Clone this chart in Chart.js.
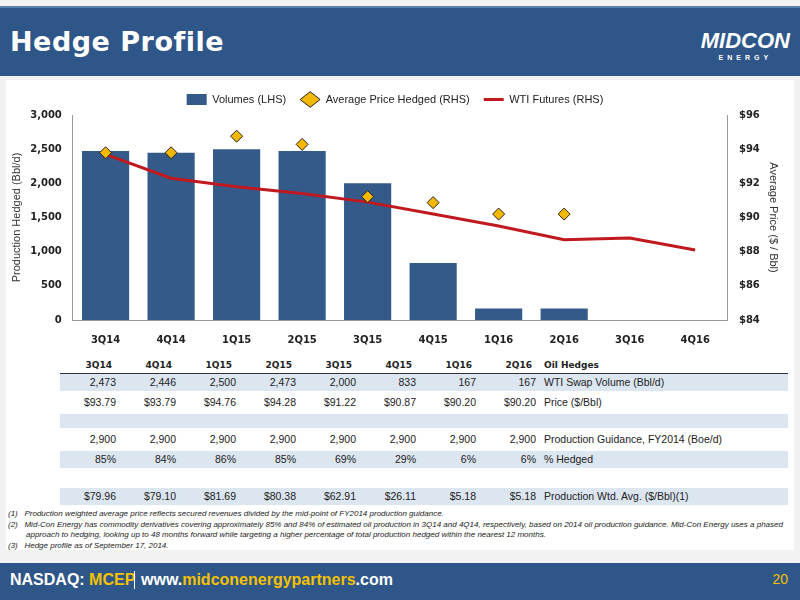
<!DOCTYPE html>
<html><head><meta charset="utf-8">
<script src="https://cdn.jsdelivr.net/npm/chart.js@4"></script>
<style>
body{margin:0;width:800px;height:600px;background:#f2f2f2;font-family:"Liberation Sans",Arial,sans-serif;position:relative;overflow:hidden}
#hdr{position:absolute;left:0;top:6px;width:800px;height:68px;background:#2f5688;border-top:2px solid #5b7fae}
#hdr h1{margin:0;position:absolute;left:10px;top:18px;color:#fff;font:bold 27px "DejaVu Sans",sans-serif;letter-spacing:0.5px}
#logo{position:absolute;right:10px;top:20px;color:#fff;font:italic bold 22px "Liberation Sans";text-align:center}
#logo small{display:block;font-size:7px;letter-spacing:4px;font-style:normal}
#panel{position:absolute;left:6px;top:80px;width:788px;height:470px;background:#fff}
#cv{position:absolute;left:0;top:80px;width:800px;height:272px}
table{position:absolute;left:60px;top:357px;width:728px;table-layout:fixed;border-collapse:collapse;font-size:10.5px;color:#222}
td,th{height:17px;line-height:17px;padding:0 4px;text-align:right;box-sizing:border-box;overflow:hidden;white-space:nowrap}
th{font-family:"DejaVu Sans";font-weight:bold;font-size:9px;border-bottom:1.5px solid #333;height:16px;line-height:14px;padding-right:8px}
col.n{width:60px}
td.l,th.l{text-align:left}
tr.s td{background:#dce6f1}
table td{border-bottom:3.5px solid #fff}
#notes{position:absolute;left:8px;top:509px;font-size:8px;font-style:italic;color:#222;line-height:10.5px;width:780px}
#notes div{padding-left:18px;text-indent:-18px}
#ftr{position:absolute;left:0;top:563px;width:800px;height:37px;background:#2f5688}
#ftr span{position:absolute;top:8px;font:bold 16px "Liberation Sans";color:#fff}
#ftr span span{position:static}
</style></head><body>
<div id="hdr"><h1>Hedge Profile</h1><div id="logo">MIDCON<small>ENERGY</small></div></div>
<div id="panel"></div>
<canvas id="cv" width="800" height="272"></canvas>
<table id="tb"></table>
<div id="notes">
<div>(1)&nbsp;&nbsp; Production weighted average price reflects secured revenues divided by the mid-point of FY2014 production guidance.</div>
<div>(2)&nbsp;&nbsp; Mid-Con Energy has commodity derivatives covering approximately 85% and 84% of estimated oil production in 3Q14 and 4Q14, respectively, based on 2014 oil production guidance. Mid-Con Energy uses a phased approach to hedging, looking up to 48 months forward while targeting a higher percentage of total production hedged within the nearest 12 months.</div>
<div>(3)&nbsp;&nbsp; Hedge profile as of September 17, 2014.</div>
</div>
<div id="ftr"><span style="left:10px">NASDAQ: <span style="color:#f5c100">MCEP</span></span><span style="left:134px;border-left:1.5px solid #fff;padding-left:6px">www.<span style="color:#f5c100">midconenergypartners</span>.com</span><span style="right:12px;font-weight:normal;color:#f5c100;font-size:14px">20</span></div>
<script>
const quarters=['3Q14','4Q14','1Q15','2Q15','3Q15','4Q15','1Q16','2Q16','3Q16','4Q16'];
const volumes=[2473,2446,2500,2473,2000,833,167,167,0,0];
const hedgedPrice=[93.79,93.79,94.76,94.28,91.22,90.87,90.20,90.20,null,null];
const wtiFutures=[93.7,92.3,91.8,91.4,90.9,90.2,89.5,88.7,88.8,88.1];

const tblCols=['3Q14','4Q14','1Q15','2Q15','3Q15','4Q15','1Q16','2Q16'];
const tblRows=[
 ['s',['2,473','2,446','2,500','2,473','2,000','833','167','167'],'WTI Swap Volume (Bbl/d)'],
 ['',['$93.79','$93.79','$94.76','$94.28','$91.22','$90.87','$90.20','$90.20'],'Price ($/Bbl)'],
 ['s',['','','','','','','',''],''],
 ['',['2,900','2,900','2,900','2,900','2,900','2,900','2,900','2,900'],'Production Guidance, FY2014 (Boe/d)'],
 ['s',['85%','84%','86%','85%','69%','29%','6%','6%'],'% Hedged'],
 ['',['','','','','','','',''],''],
 ['s',['$79.96','$79.10','$81.69','$80.38','$62.91','$26.11','$5.18','$5.18'],'Production Wtd. Avg. ($/Bbl)(1)']
];
let h='<colgroup>'+tblCols.map(()=>'<col class="n">').join('')+'<col></colgroup>';
h+='<tr>'+tblCols.map(c=>'<th>'+c+'</th>').join('')+'<th class="l">Oil Hedges</th></tr>';
tblRows.forEach(r=>{h+='<tr class="'+r[0]+'">'+r[1].map(v=>'<td>'+v+'</td>').join('')+'<td class="l">'+r[2]+'</td></tr>';});
document.getElementById('tb').innerHTML=h;

new Chart(document.getElementById('cv'),{
 data:{labels:quarters,datasets:[
  {type:'bar',label:'Volumes (LHS)',data:volumes,yAxisID:'y',backgroundColor:'#335a89',categoryPercentage:1,barPercentage:0.72,order:3},
  {type:'line',label:'Average Price Hedged (RHS)',data:hedgedPrice,yAxisID:'y1',showLine:false,pointStyle:'rectRot',pointRadius:6,pointBackgroundColor:'#f5b800',pointBorderColor:'#222',pointBorderWidth:1,order:1},
  {type:'line',label:'WTI Futures (RHS)',data:wtiFutures,yAxisID:'y1',borderColor:'#c0191f',backgroundColor:'#c0191f',borderWidth:3,pointRadius:0,order:2}
 ]},
 options:{responsive:false,animation:false,
  layout:{padding:{left:6,right:16,top:0,bottom:0}},
  plugins:{legend:{position:'top',labels:{usePointStyle:true,pointStyleWidth:20,font:{family:'Liberation Sans',size:11},color:'#222',padding:14,
    sort:(a,b)=>a.datasetIndex-b.datasetIndex,
    generateLabels(c){const l=Chart.defaults.plugins.legend.labels.generateLabels(c);l.forEach(i=>{const k=i.datasetIndex;
      if(k==0){i.pointStyle='rect';i.fillStyle='#335a89';i.lineWidth=0;}
      if(k==1){i.pointStyle='rectRot';i.fillStyle='#f5b800';i.strokeStyle='#222';i.lineWidth=1;}
      if(k==2){i.pointStyle='line';i.strokeStyle='#c0191f';i.lineWidth=3;}});return l;}}},
   tooltip:{enabled:false}},
  scales:{
   x:{grid:{display:false},border:{color:'#999'},ticks:{padding:6,font:{family:'DejaVu Sans',weight:'bold',size:10},color:'#222'}},
   y:{position:'left',min:0,max:3000,ticks:{stepSize:500,font:{family:'DejaVu Sans',weight:'bold',size:10},color:'#222'},grid:{display:false},border:{color:'#999'},
    title:{display:true,text:'Production Hedged (Bbl/d)',font:{family:'Liberation Sans',size:11},color:'#333'}},
   y1:{position:'right',min:84,max:96,ticks:{stepSize:2,callback:v=>'$'+v,font:{family:'DejaVu Sans',weight:'bold',size:10},color:'#222'},grid:{display:false},border:{color:'#999'},
    title:{display:true,text:'Average Price ($ / Bbl)',font:{family:'Liberation Sans',size:11},color:'#333'}}
  }}
});
</script>
</body></html>
